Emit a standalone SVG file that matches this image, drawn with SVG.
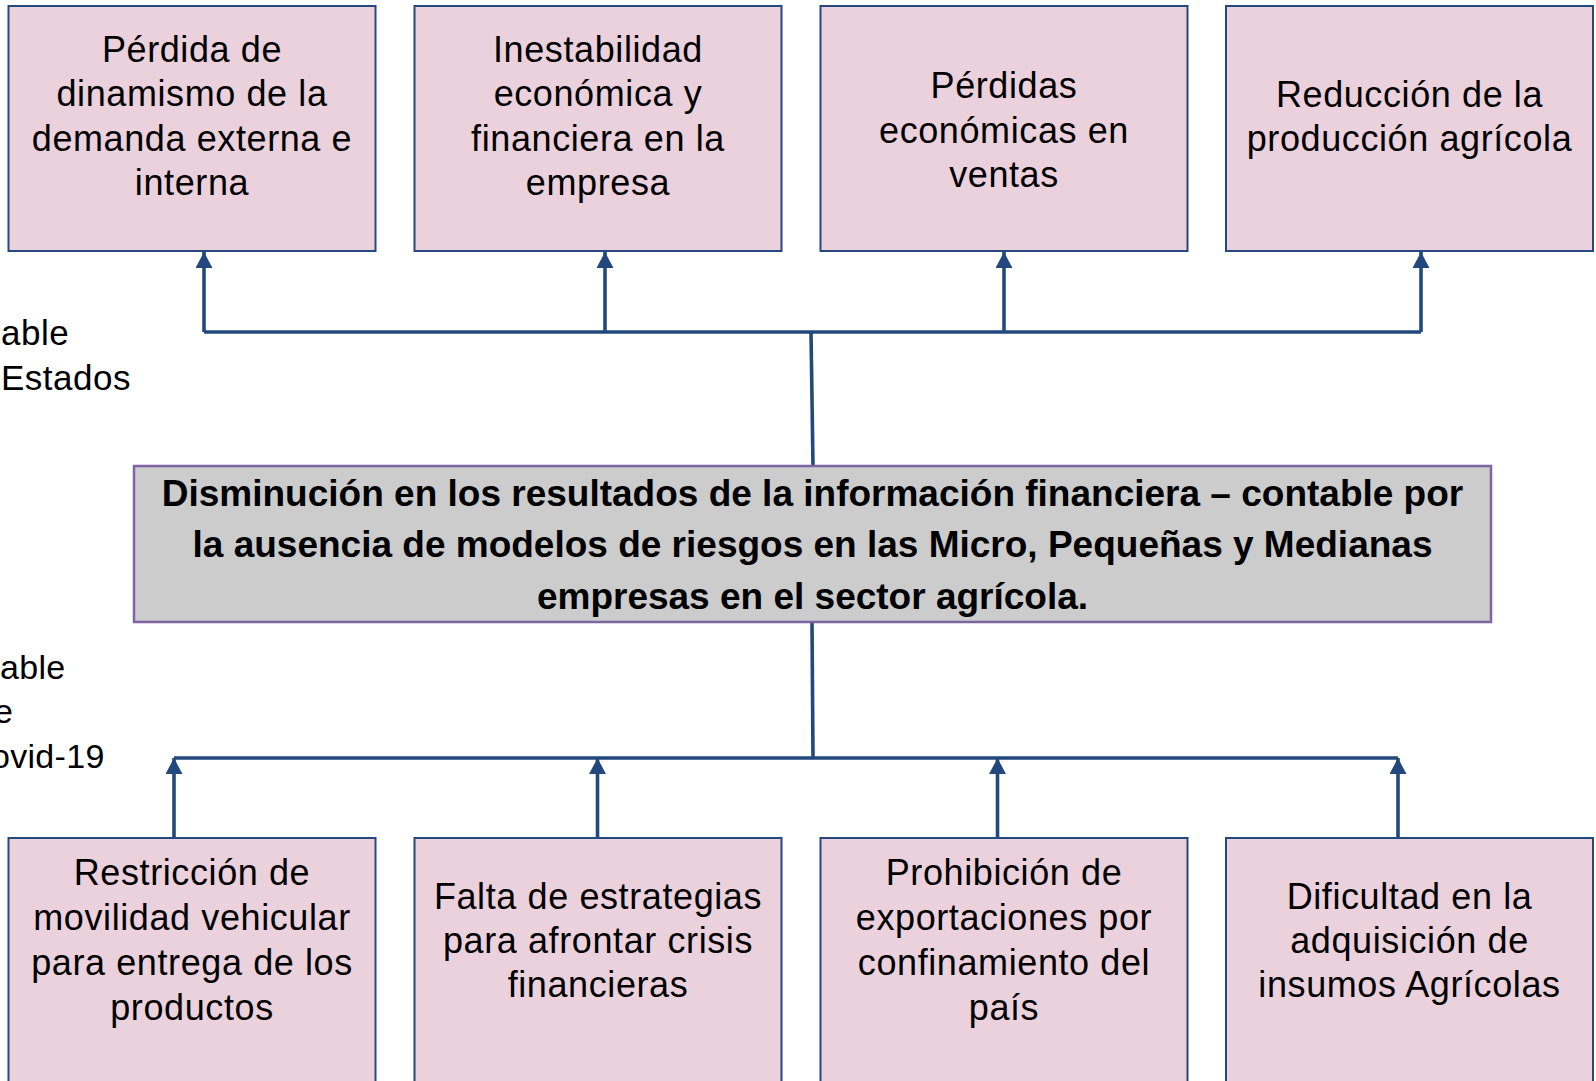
<svg xmlns="http://www.w3.org/2000/svg" width="1596" height="1081" viewBox="0 0 1596 1081">
<style>
.box{fill:#EAD1DC;stroke:#24497E;stroke-width:2}
.main{fill:#CCCCCC;stroke:#8064A2;stroke-width:2.5}
.t{font-family:"Liberation Sans",Arial,sans-serif;font-size:36px;letter-spacing:0.6px;fill:#000;text-anchor:middle}
.b{font-family:"Liberation Sans",Arial,sans-serif;font-size:37px;font-weight:bold;fill:#000;text-anchor:middle}
.side{font-family:"Liberation Sans",Arial,sans-serif;font-size:35px;letter-spacing:0.5px;fill:#000}
.side2{font-family:"Liberation Sans",Arial,sans-serif;font-size:34px;letter-spacing:0.3px;fill:#000}
.c{fill:none;stroke:#22487D;stroke-width:3.6}
</style>
<defs>
<marker id="ah" markerUnits="userSpaceOnUse" markerWidth="17" markerHeight="17" viewBox="0 0 17 17" refX="16" refY="8.5" orient="auto">
<path d="M0,0 L16,8.5 L0,17 Z" fill="#22487D"/>
</marker>
</defs>
<rect width="1596" height="1081" fill="#FFFFFF"/>
<g id="side-labels">
<text class="side" x="1" y="345">able</text>
<text class="side" x="1" y="390">Estados</text>
<text class="side2" x="0" y="679">able</text>
<text class="side2" x="-6" y="723">e</text>
<text class="side2" x="-9" y="768">ovid-19</text>
</g>
<g id="connectors">
<path class="c" d="M204,332 H1421"/>
<path class="c" d="M811,332 L813,466"/>
<path class="c" d="M204,332 V252" marker-end="url(#ah)"/>
<path class="c" d="M605,332 V252" marker-end="url(#ah)"/>
<path class="c" d="M1004,332 V252" marker-end="url(#ah)"/>
<path class="c" d="M1421,332 V252" marker-end="url(#ah)"/>
<path class="c" d="M812,622 L813,758"/>
<path class="c" d="M174,758 H1398"/>
<path class="c" d="M174,838 V758" marker-end="url(#ah)"/>
<path class="c" d="M597.5,838 V758" marker-end="url(#ah)"/>
<path class="c" d="M997.5,838 V758" marker-end="url(#ah)"/>
<path class="c" d="M1398,838 V758" marker-end="url(#ah)"/>
</g>
<g id="e1">
<rect class="box" x="8.5" y="6" width="367" height="245"/>
<text class="t" x="192" y="61.5">Pérdida de</text>
<text class="t" x="192" y="106">dinamismo de la</text>
<text class="t" x="192" y="150.5">demanda externa e</text>
<text class="t" x="192" y="195">interna</text>
</g>
<g id="e2">
<rect class="box" x="414.5" y="6" width="367" height="245"/>
<text class="t" x="598" y="61.5">Inestabilidad</text>
<text class="t" x="598" y="106">económica y</text>
<text class="t" x="598" y="150.5">financiera en la</text>
<text class="t" x="598" y="195">empresa</text>
</g>
<g id="e3">
<rect class="box" x="820.5" y="6" width="367" height="245"/>
<text class="t" x="1004" y="98">Pérdidas</text>
<text class="t" x="1004" y="142.5">económicas en</text>
<text class="t" x="1004" y="187">ventas</text>
</g>
<g id="e4">
<rect class="box" x="1226" y="6" width="367" height="245"/>
<text class="t" x="1409.5" y="107">Reducción de la</text>
<text class="t" x="1409.5" y="151">producción agrícola</text>
</g>
<g id="problem">
<rect class="main" x="134" y="466" width="1357" height="156"/>
<text class="b" x="812.5" y="505.5">Disminución en los resultados de la información financiera – contable por</text>
<text class="b" x="812.5" y="557">la ausencia de modelos de riesgos en las Micro, Pequeñas y Medianas</text>
<text class="b" x="812.5" y="608.5">empresas en el sector agrícola.</text>
</g>
<g id="c1">
<rect class="box" x="8.5" y="838" width="367" height="260"/>
<text class="t" x="192" y="885">Restricción de</text>
<text class="t" x="192" y="930">movilidad vehicular</text>
<text class="t" x="192" y="975">para entrega de los</text>
<text class="t" x="192" y="1020">productos</text>
</g>
<g id="c2">
<rect class="box" x="414.5" y="838" width="367" height="260"/>
<text class="t" x="598" y="908.5">Falta de estrategias</text>
<text class="t" x="598" y="952.5">para afrontar crisis</text>
<text class="t" x="598" y="997">financieras</text>
</g>
<g id="c3">
<rect class="box" x="820.5" y="838" width="367" height="260"/>
<text class="t" x="1004" y="885">Prohibición de</text>
<text class="t" x="1004" y="930">exportaciones por</text>
<text class="t" x="1004" y="975">confinamiento del</text>
<text class="t" x="1004" y="1020">país</text>
</g>
<g id="c4">
<rect class="box" x="1226" y="838" width="367" height="260"/>
<text class="t" x="1409.5" y="908.5">Dificultad en la</text>
<text class="t" x="1409.5" y="952.5">adquisición de</text>
<text class="t" x="1409.5" y="997">insumos Agrícolas</text>
</g>
</svg>
